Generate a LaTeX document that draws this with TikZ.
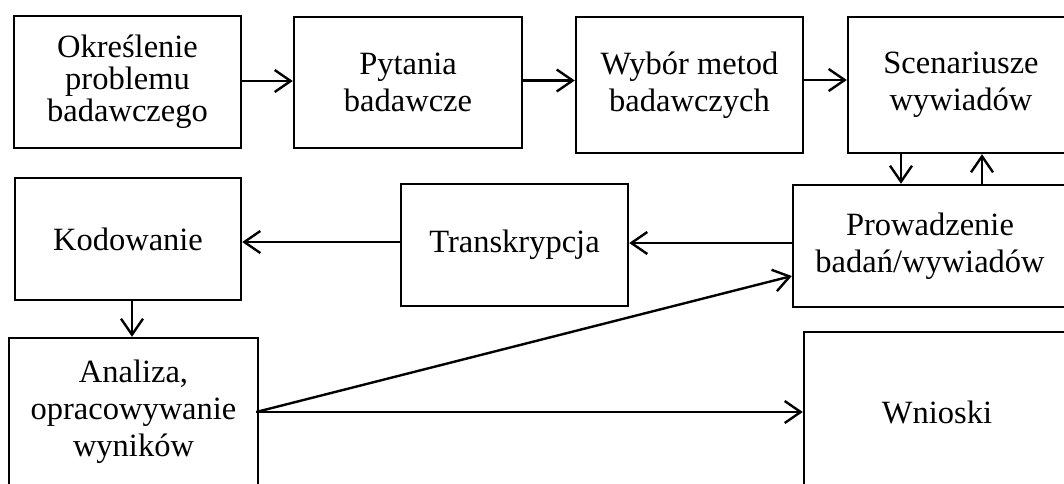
\documentclass[tikz,border=0pt]{standalone}
\usepackage{fontspec}
\setmainfont{Liberation Serif}
\usetikzlibrary{arrows.meta}
\begin{document}
\begin{tikzpicture}[x=1pt,y=-1pt,
  box/.style={draw,line width=2.4pt,align=center,inner sep=0pt,
    font=\fontsize{32.5}{37}\selectfont},
  tight/.style={font=\fontsize{32.5}{32}\selectfont},
  arr/.style={line width=2.4pt,-{Straight Barb[length=16pt,width=22pt]}}]
\useasboundingbox (0,0) rectangle (1064,483);
\clip (0,0) rectangle (1064,483);
\fill[white] (0,0) rectangle (1064,483);
\node[box,tight,minimum width=227pt,minimum height=132pt] (b1) at (127.5,82) {Określenie\\problemu\\badawczego};
\node[box,minimum width=228pt,minimum height=131pt] (b2) at (408,82.5) {Pytania\\badawcze};
\node[box,minimum width=227pt,minimum height=136pt] (b3) at (689.5,85) {Wybór metod\\badawczych};
\node[box,minimum width=226pt,minimum height=136pt] (b4) at (961,85) {Scenariusze\\wywiadów};
\node[box,minimum width=274pt,minimum height=122pt] (b5) at (930,246) {Prowadzenie\\badań/wywiadów};
\node[box,minimum width=226pt,minimum height=122pt] (b6) at (128,239) {Kodowanie};
\node[box,minimum width=227pt,minimum height=122pt] (b7) at (514.5,245) {Transkrypcja};
\node[box,minimum width=249pt,minimum height=148pt] (b8) at (133.5,412) {Analiza,\\opracowywanie\\wyników};
\node[box,minimum width=266pt,minimum height=160pt] (b9) at (937,412) {Wnioski};
\draw[arr] ([yshift=1pt]b1.east) -- ([yshift=1pt]b1.east -| b2.west);
\draw[arr] ([yshift=2pt]b2.east) -- ([yshift=2pt]b2.east -| b3.west);
\draw[arr] ([yshift=5pt]b3.east) -- ([yshift=5pt]b3.east -| b4.west);
\draw[arr] ([xshift=-60pt]b4.south) -- ([xshift=-60pt]b4.south |- b5.north);
\draw[arr] ([xshift=21pt]b4.south |- b5.north) -- ([xshift=21pt]b4.south);
\draw[arr] ([yshift=2pt]b7.east -| b5.west) -- ([yshift=2pt]b7.east);
\draw[arr] ([yshift=3pt]b7.west) -- ([yshift=3pt]b7.west -| b6.east);
\draw[arr] (b6.south -| 132,0) -- (b8.north -| 132,0);
\draw[arr] ([xshift=-3pt]b8.east) -- ([yshift=-30pt]b5.west);
\draw[arr] ([xshift=-3pt]b8.east) -- (b9.west);
\end{tikzpicture}
\end{document}
